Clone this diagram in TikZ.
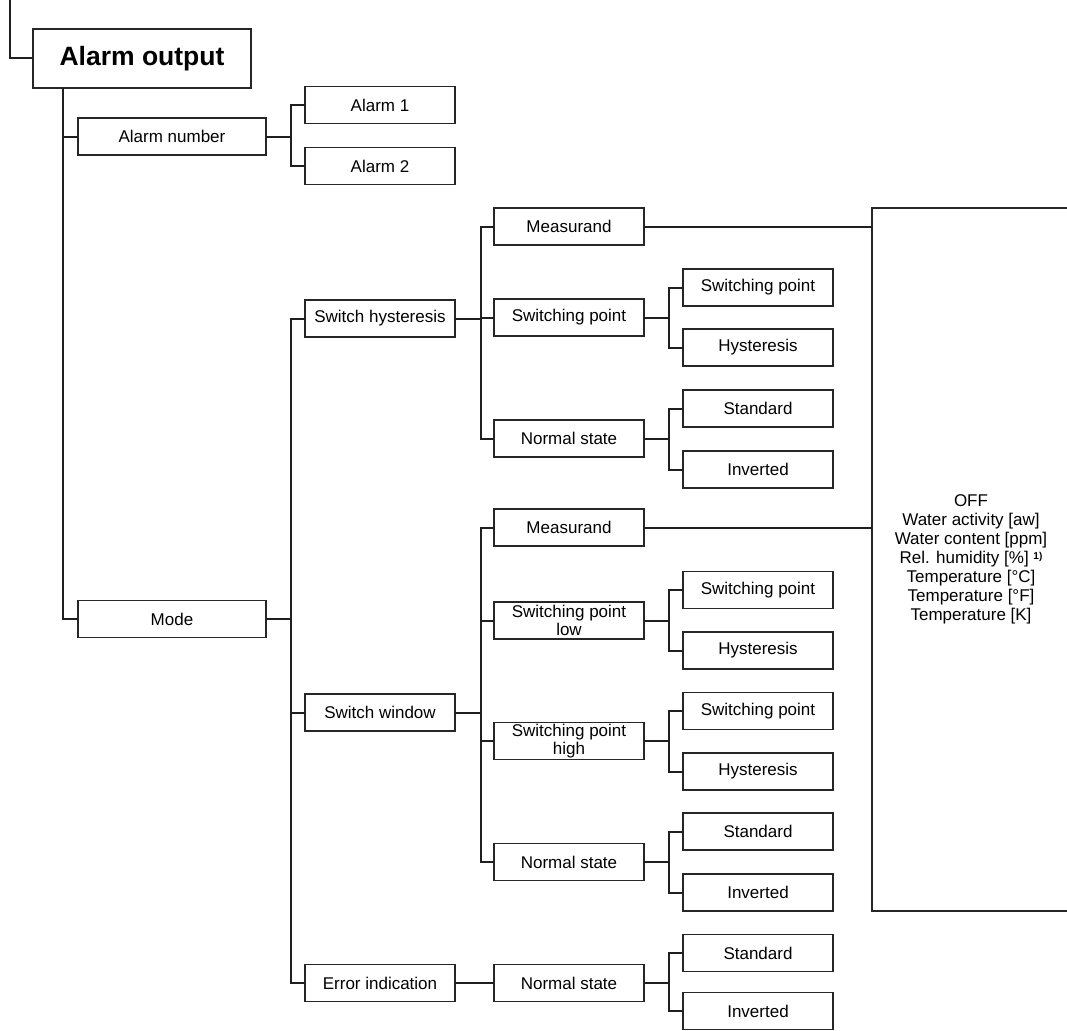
\documentclass[tikz,border=0pt]{standalone}
\usepackage{fontspec}
\setmainfont{Liberation Sans}
\begin{document}
\begin{tikzpicture}[x=1pt,y=-1pt,
  every node/.style={inner sep=0pt, outer sep=0pt, align=center, font=\fontsize{17}{18}\selectfont},
  bx/.style={draw=black!85, line width=1.7pt, minimum width=150pt, minimum height=37pt},
  wbx/.style={bx, minimum width=188pt},
  conn/.style={draw=black!88, line width=2pt}]
\useasboundingbox (0,0) rectangle (1067,1030);
% root
\node[draw=black!85, line width=1.7pt, minimum width=218pt, minimum height=59pt, font=\fontsize{26.5}{28}\selectfont\bfseries] (ao) at (142,58.5) {Alarm output};
\coordinate (top) at (10,0);
% level 1
\node[wbx] (an) at (172,136.5) {Alarm number};
\node[wbx] (mode) at (172,619) {Mode};
% alarm number children
\node[bx] (a1) at (380,105) {Alarm 1};
\node[bx] (a2) at (380,166) {Alarm 2};
% mode children
\node[bx] (sh) at (380,318.5) {Switch hysteresis};
\node[bx] (sw) at (380,712.5) {Switch window};
\node[bx] (ei) at (380,983) {Error indication};
% switch hysteresis children
\node[bx] (m1) at (569,226.5) {Measurand};
\node[bx] (sp1) at (569,317.5) {Switching point};
\node[bx] (ns1) at (569,438.5) {Normal state};
\node[bx] (sp1a) at (758,287.5) {Switching point};
\node[bx] (hy1) at (758,347.5) {Hysteresis};
\node[bx] (st1) at (758,408.5) {Standard};
\node[bx] (in1) at (758,469.5) {Inverted};
% switch window children
\node[bx] (m2) at (569,527.5) {Measurand};
\node[bx] (spl) at (569,620.5) {Switching point\\low};
\node[bx] (sph) at (569,741) {Switching point\\high};
\node[bx] (ns2) at (569,862) {Normal state};
\node[bx] (spla) at (758,590) {Switching point};
\node[bx] (hy2) at (758,650.5) {Hysteresis};
\node[bx] (spha) at (758,711) {Switching point};
\node[bx] (hy3) at (758,771.5) {Hysteresis};
\node[bx] (st2) at (758,831.5) {Standard};
\node[bx] (in2) at (758,892.5) {Inverted};
% error indication children
\node[bx] (ns3) at (569,983) {Normal state};
\node[bx] (st3) at (758,953) {Standard};
\node[bx] (in3) at (758,1011) {Inverted};
% measurand list box
\node[minimum width=198pt, minimum height=703pt, font=\fontsize{17}{19}\selectfont] (big) at (971,559.5)
  {OFF\\Water activity [aw]\\Water content [ppm]\\Rel. humidity [\%] {\fontsize{10}{10}\selectfont\bfseries\raisebox{4pt}{1)}}\\Temperature [°C]\\Temperature [°F]\\Temperature [K]};
\draw[draw=black!85, line width=1.7pt] (big.north east) -- (big.north west) -- (big.south west) -- (big.south east);
% connectors
\draw[conn] (top) |- (ao.west);
\draw[conn] (ao.south west) ++(30,0) coordinate (trunk) |- (an.west);
\draw[conn] (trunk) |- (mode.west);
\draw[conn] (an.east) -- ++(25,0) coordinate (anb);
\draw[conn] (anb) |- (a1.west);
\draw[conn] (anb) |- (a2.west);
\draw[conn] (mode.east) -- ++(25,0) coordinate (mb);
\draw[conn] (mb) |- (sh.west);
\draw[conn] (mb) |- (sw.west);
\draw[conn] (mb) |- (ei.west);
\draw[conn] (sh.east) -- ++(26,0) coordinate (shb);
\draw[conn] (shb) |- (m1.west);
\draw[conn] (shb) |- (sp1.west);
\draw[conn] (shb) |- (ns1.west);
\draw[conn] (sp1.east) -- ++(25,0) coordinate (sp1b);
\draw[conn] (sp1b) |- (sp1a.west);
\draw[conn] (sp1b) |- (hy1.west);
\draw[conn] (ns1.east) -- ++(25,0) coordinate (ns1b);
\draw[conn] (ns1b) |- (st1.west);
\draw[conn] (ns1b) |- (in1.west);
\draw[conn] (sw.east) -- ++(26,0) coordinate (swb);
\draw[conn] (swb) |- (m2.west);
\draw[conn] (swb) |- (spl.west);
\draw[conn] (swb) |- (sph.west);
\draw[conn] (swb) |- (ns2.west);
\draw[conn] (spl.east) -- ++(25,0) coordinate (splb);
\draw[conn] (splb) |- (spla.west);
\draw[conn] (splb) |- (hy2.west);
\draw[conn] (sph.east) -- ++(25,0) coordinate (sphb);
\draw[conn] (sphb) |- (spha.west);
\draw[conn] (sphb) |- (hy3.west);
\draw[conn] (ns2.east) -- ++(25,0) coordinate (ns2b);
\draw[conn] (ns2b) |- (st2.west);
\draw[conn] (ns2b) |- (in2.west);
\draw[conn] (ei.east) -- (ns3.west);
\draw[conn] (ns3.east) -- ++(25,0) coordinate (ns3b);
\draw[conn] (ns3b) |- (st3.west);
\draw[conn] (ns3b) |- (in3.west);
\draw[conn] (m1.east) -- (m1.east -| big.west);
\draw[conn] (m2.east) -- (m2.east -| big.west);
\end{tikzpicture}
\end{document}
